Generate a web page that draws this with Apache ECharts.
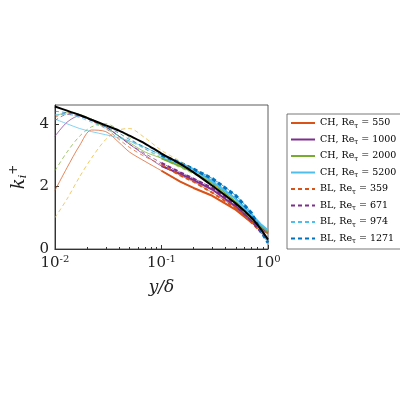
<!DOCTYPE html>
<html>
<head>
<meta charset="utf-8">
<script src="https://cdn.jsdelivr.net/npm/echarts@6/dist/echarts.min.js"></script>
<style>body{margin:0;background:#fff}#chart{width:400px;height:400px}</style>
</head>
<body>
<div id="chart"></div>
<script>
const chart = echarts.init(document.getElementById("chart"));

const xs = [0.01, 0.013, 0.017, 0.022, 0.03, 0.04, 0.05, 0.07, 0.1, 0.15, 0.2, 0.3, 0.5, 0.7, 0.85, 1];

const ch550 = [1.87, 2.6, 3.3, 3.8, 3.75, 3.4, 3.1, 2.8, 2.5, 2.15, 1.95, 1.7, 1.25, 0.85, 0.65, 0.5];
const ch1000 = [3.6, 4.05, 4.25, 4.15, 3.9, 3.6, 3.35, 3.0, 2.65, 2.4, 2.2, 1.9, 1.35, 0.9, 0.7, 0.55];
const ch2000 = [4.25, 4.35, 4.3, 4.15, 3.9, 3.6, 3.4, 3.1, 2.9, 2.65, 2.45, 2.1, 1.5, 1.0, 0.75, 0.55];
const ch5200 = [4.15, 4.0, 3.85, 3.75, 3.65, 3.55, 3.45, 3.25, 3.0, 2.75, 2.55, 2.15, 1.6, 1.1, 0.8, 0.6];
const bl359 = [4.2, 4.35, 4.3, 4.1, 3.85, 3.5, 3.25, 2.95, 2.7, 2.35, 2.15, 1.8, 1.3, 0.85, 0.55, 0.3];
const bl671 = [4.1, 4.3, 4.25, 4.1, 3.9, 3.6, 3.35, 3.05, 2.75, 2.45, 2.25, 1.95, 1.4, 0.9, 0.55, 0.3];
const bl974 = [4.3, 4.3, 4.2, 4.05, 3.85, 3.6, 3.45, 3.2, 2.95, 2.7, 2.5, 2.2, 1.6, 1.1, 0.6, 0.25];
const bl1271 = [4.4, 4.35, 4.25, 4.1, 3.9, 3.7, 3.5, 3.25, 3.0, 2.75, 2.55, 2.25, 1.7, 1.15, 0.6, 0.2];
const extraYellow = [1.0, 1.6, 2.3, 2.9, 3.5, 3.8, 3.85, 3.55, 3.15, 2.8, 2.5, 2.1, 1.45, 0.95, 0.65, 0.45];
const extraGreen = [2.5, 3.1, 3.6, 3.9, 4.0, 3.8, 3.55, 3.2, 2.9, 2.6, 2.4, 2.05, 1.45, 0.95, 0.7, 0.5];
const model = [4.55, 4.42, 4.28, 4.13, 3.95, 3.78, 3.62, 3.37, 3.05, 2.72, 2.45, 2.02, 1.45, 1.0, 0.65, 0.3];

const names = ["CH550", "CH1000", "CH2000", "CH5200", "BL359", "BL671", "BL974", "BL1271"];
const curves = [ch550, ch1000, ch2000, ch5200, bl359, bl671, bl974, bl1271];
const colors = ["#D95319", "#7E2F8E", "#77AC30", "#4DBEEE", "#D95319", "#7E2F8E", "#4DBEEE", "#0072BD"];

function pts(ys, from) {
  return xs.map((x, i) => [x, ys[i]]).filter(p => p[0] >= from);
}

const series = [];
curves.forEach((ys, k) => {
  const dashed = k >= 4;
  series.push({
    name: names[k], type: "line", symbol: "none", data: pts(ys, 0.1),
    lineStyle: { color: colors[k], width: k === 7 ? 3 : 2, type: dashed ? [4, 3] : "solid" },
    itemStyle: { color: colors[k] }, z: 3
  });
  series.push({
    name: names[k], type: "line", symbol: "none", data: pts(ys, 0), smooth: 0.3,
    lineStyle: { color: colors[k], width: 0.7, type: dashed ? [4, 3] : "solid" }, z: 2
  });
});
series.push({ type: "line", symbol: "none", data: pts(extraYellow, 0), smooth: 0.3,
  lineStyle: { color: "#EDB120", width: 0.7, type: [4, 3] } });
series.push({ type: "line", symbol: "none", data: pts(extraGreen, 0), smooth: 0.3,
  lineStyle: { color: "#77AC30", width: 0.7, type: [4, 3] } });
series.push({ type: "line", symbol: "none", data: pts(model, 0), smooth: 0.3,
  lineStyle: { color: "#000", width: 2 }, z: 5 });

const font = "DejaVu Serif";
chart.setOption({
  animation: false,
  grid: { left: 43, right: 132, top: 105, bottom: 151, show: true, borderColor: "#333", borderWidth: 0.8 },
  legend: {
    data: names, orient: "vertical", left: 287, top: 114, itemGap: 5,
    itemWidth: 24, itemHeight: 11, padding: [4, 6, 4, 3],
    borderColor: "#555", borderWidth: 0.8, backgroundColor: "#fff",
    itemStyle: { opacity: 0 },
    textStyle: { fontFamily: font, fontSize: 9.5, color: "#000",
      rich: { s: { fontFamily: font, fontSize: 7, padding: [6, 0, 0, 0] } } },
    formatter: n => n.slice(0, 2) + ", Re{s|τ} = " + n.slice(2)
  },
  xAxis: {
    type: "log", min: 0.01, max: 1, logBase: 10,
    axisLine: { lineStyle: { color: "#333" } },
    axisTick: { inside: true, length: 4 },
    minorTick: { show: true, splitNumber: 9, length: 2 },
    splitLine: { show: false },
    axisLabel: {
      fontFamily: font, fontSize: 15, color: "#222", margin: 5,
      formatter: v => "10{s|" + Math.round(Math.log10(v)) + "}",
      rich: { s: { fontFamily: font, fontSize: 10, verticalAlign: "top", padding: [0, 0, 8, 0] } }
    },
    name: "y/δ", nameLocation: "middle", nameGap: 30,
    nameTextStyle: { fontFamily: font, fontSize: 17, fontStyle: "italic", color: "#222" }
  },
  yAxis: {
    type: "value", min: 0, max: 4.6, interval: 2,
    axisLine: { show: true, lineStyle: { color: "#333" } },
    axisTick: { show: true, inside: true, length: 4 },
    splitLine: { show: false },
    axisLabel: { fontFamily: font, fontSize: 15, color: "#222", margin: 6, showMaxLabel: false },
    name: "k{s|i}{p|+}", nameLocation: "middle", nameGap: 24, nameRotate: 90,
    nameTextStyle: {
      fontFamily: font, fontSize: 18, fontStyle: "italic", color: "#222",
      rich: { s: { fontSize: 11, fontStyle: "italic", fontFamily: font, padding: [8, 0, 0, 0] },
              p: { fontSize: 12, fontFamily: font, padding: [0, 0, 10, 0] } }
    }
  },
  series: series
});
</script>
</body>
</html>
